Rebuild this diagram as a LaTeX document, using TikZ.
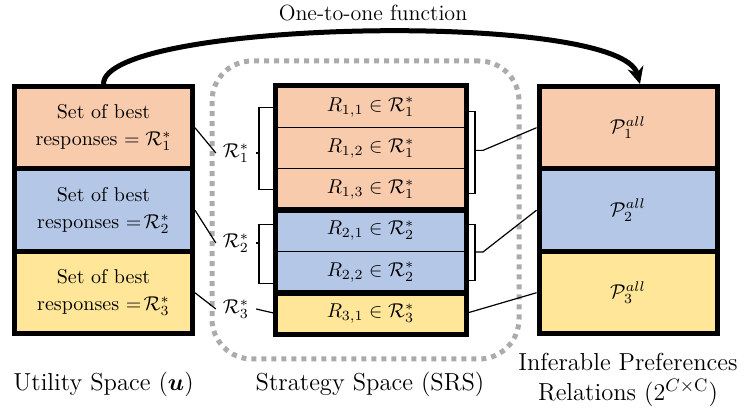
\documentclass[tikz,border=0pt]{standalone}
\usepackage{amsmath,bm}
\usetikzlibrary{arrows.meta,calc}
\definecolor{cellorange}{HTML}{F8CBAD}
\definecolor{cellblue}{HTML}{B4C7E7}
\definecolor{cellyellow}{HTML}{FFE699}
\begin{document}
\begin{tikzpicture}[x=0.5pt,y=-0.5pt,
	bigcell/.style={draw,line width=2.5pt,minimum width=89pt,minimum height=41.25pt,align=center,inner sep=0pt},
	rowcell/.style={draw,line width=0.5pt,minimum width=95pt,minimum height=20.625pt,inner sep=0pt},
	grp/.style={line width=2.5pt},
	brk/.style={line width=0.6pt},
	srsbox/.style={draw=black!33,line width=2.5pt,dash pattern=on 2.5pt off 2.5pt,rounded corners=20pt,minimum width=153.5pt,minimum height=149pt}]
			\useasboundingbox (0,0) rectangle (746,415);
			\node[srsbox] (srs) at (365.5,210) {};
			\node[bigcell, fill=cellorange] (u1) at (103.5,127.75) {Set of best\\[1.5pt]responses $=\mathcal{R}_1^*$};
			\node[bigcell, fill=cellblue] (u2) at (103.5,210.25) {Set of best\\[1.5pt]responses $=\!\mathcal{R}_2^*$};
			\node[bigcell, fill=cellyellow] (u3) at (103.5,292.75) {Set of best\\[1.5pt]responses $=\!\mathcal{R}_3^*$};
			\node[rowcell, fill=cellorange] (m11) at (370.5,107.125) {$R_{1,1}\in\mathcal{R}_1^*$};
			\node[rowcell, fill=cellorange] (m12) at (370.5,148.375) {$R_{1,2}\in\mathcal{R}_1^*$};
			\node[rowcell, fill=cellorange] (m13) at (370.5,189.625) {$R_{1,3}\in\mathcal{R}_1^*$};
			\node[rowcell, fill=cellblue] (m21) at (370.5,230.875) {$R_{2,1}\in\mathcal{R}_2^*$};
			\node[rowcell, fill=cellblue] (m22) at (370.5,272.125) {$R_{2,2}\in\mathcal{R}_2^*$};
			\node[rowcell, fill=cellyellow] (m31) at (370.5,313.375) {$R_{3,1}\in\mathcal{R}_3^*$};
			\draw[grp] (m11.north west) rectangle (m13.south east);
			\draw[grp] (m21.north west) rectangle (m22.south east);
			\draw[grp] (m31.north west) rectangle (m31.south east);
			\node[bigcell, fill=cellorange] (p1) at (628,127.75) {$\mathcal{P}_1^{all}$};
			\node[bigcell, fill=cellblue] (p2) at (628,210.25) {$\mathcal{P}_2^{all}$};
			\node[bigcell, fill=cellyellow] (p3) at (628,292.75) {$\mathcal{P}_3^{all}$};
			\node (l1) at (236,153) {$\mathcal{R}_1^*$};
			\node (l2) at (236,243) {$\mathcal{R}_2^*$};
			\node (l3) at (236,309) {$\mathcal{R}_3^*$};
			\coordinate (lb1) at ($(m11.west)+(-8pt,0)$);
			\coordinate (lb2) at ($(m21.west)+(-8pt,0)$);
			\coordinate (rb1) at ($(m12.east)+(4.5pt,0)$);
			\coordinate (rb2) at ($(m21.east)+(4.5pt,0)$);
			\draw[brk] (u1.east) -- (l1.west);
			\draw[brk] (u2.east) -- (l2.west);
			\draw[brk] (u3.east) -- (l3.west);
			\draw[brk] (m11.west) -| (lb1) |- (m13.west);
			\draw[brk] ([yshift=3pt]m21.west) -| (lb2) |- ([yshift=-5.5pt]m22.west);
			\draw[brk] (l1.east) -- (l1.east -| lb1);
			\draw[brk] (l2.east) -- (l2.east -| lb2);
			\draw[brk] (l3.east) -- (m31.west);
			\draw[brk] ([yshift=-2pt]m11.east) -| ([yshift=-2pt]rb1 |- m11.east) |- ([yshift=-2pt]m13.east);
			\draw[brk] ([yshift=3pt]m21.east) -| (rb2) |- ([yshift=-4pt]m22.east);
			\coordinate (rt1) at ($(rb1)+(0,-1pt)$);
			\coordinate (rt2) at ($(rb2|-m22.north)+(0,-0.5pt)$);
			\draw[brk] (rt1) -- ++(4pt,0) -- (p1.west);
			\draw[brk] (rt2) -- ++(4pt,0) -- (p2.west);
			\draw[brk] (m31.east) -- (p3.west);
			\draw[line width=2.5pt, -{Stealth[length=8.5pt,width=8pt]}] (u1.north) .. controls +(0,-64) and +(-20,-74) .. ([xshift=6pt]p1.north);
			\node[font=\fontsize{11}{13}\selectfont] (fn) at (373,13) {One-to-one function};
			\node[font=\fontsize{12.3}{15}\selectfont] (su) at (103.5,384) {Utility Space ($\bm{u}$)};
			\node[font=\fontsize{12.3}{15}\selectfont] (ss) at (370,384) {Strategy Space (SRS)};
			\node[font=\fontsize{12.3}{15}\selectfont, align=center] (sp) at (628,380) {Inferable Preferences\\Relations ($2^{C\times\mathrm{C}}$)};
			\end{tikzpicture}
\end{document}
